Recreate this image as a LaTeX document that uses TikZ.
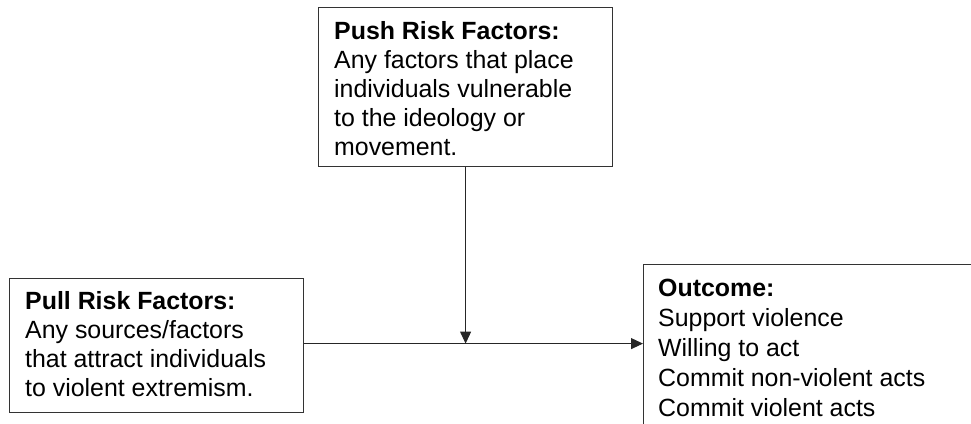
\documentclass[tikz,border=0pt]{standalone}
\usepackage{fontspec}
\setmainfont{Liberation Sans}
\usetikzlibrary{arrows.meta}
\begin{document}
\begin{tikzpicture}[x=1pt,y=-1pt,
  frame/.style={draw=black!80, line width=1.2pt, inner sep=0pt, anchor=north west},
  txt/.style={inner sep=0pt, anchor=north west, align=left, font=\fontsize{24.9}{29}\selectfont},
  conn/.style={draw=black!85, line width=1pt, -{Triangle[length=12pt,width=11pt]}}]
\useasboundingbox (0,0) rectangle (971,423);
\clip (0,0) rectangle (971,423);
\node[frame, minimum width=294pt, minimum height=159pt] (push) at (318,7) {};
\node[frame, minimum width=294pt, minimum height=134pt] (pull) at (9,278) {};
\node[frame, minimum width=400pt, minimum height=220pt] (outcome) at (643,264) {};
\node[txt] (pushtxt) at (334,18.7) {\strut\textbf{Push Risk Factors:}\\Any factors that place\\individuals vulnerable\\to the ideology or\\movement.};
\node[txt] (pulltxt) at (25,288.7) {\strut\textbf{Pull Risk Factors:}\\Any sources/factors\\that attract individuals\\to violent extremism.};
\node[txt, font=\fontsize{24.9}{30}\selectfont] (outtxt) at (658,275) {\strut\textbf{Outcome:}\\Support violence\\Willing to act\\Commit non-violent acts\\Commit violent acts};
\coordinate (lineStart) at ([yshift=2pt]pull.east);
\coordinate (meet) at (push.south |- lineStart);
\draw[conn] (push.south) -- (meet);
\draw[conn] (lineStart) -- (lineStart -| outcome.west);
\end{tikzpicture}
\end{document}
